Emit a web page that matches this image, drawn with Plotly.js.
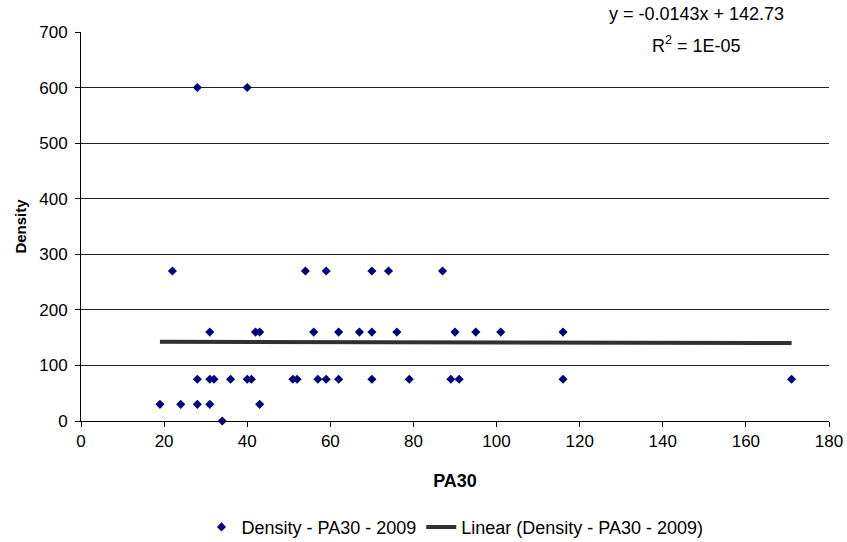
<!DOCTYPE html>
<html>
<head>
<meta charset="utf-8">
<script src="https://cdn.plot.ly/plotly-3.0.1.min.js"></script>
<style>
html, body { margin: 0; padding: 0; background: #fff; }
#chart { width: 847px; height: 542px; }
</style>
</head>
<body>
<div id="chart"></div>
<script>
// PA30 values (x) and Density values (y)
const pa30 = [
  28, 40,
  22, 54, 59, 70, 74, 87,
  31, 42, 43, 56, 62, 67, 70, 76, 90, 95, 101, 116,
  28, 31, 32, 36, 40, 41, 51, 52, 57, 59, 62, 70, 79, 89, 91, 116, 171,
  19, 24, 28, 31, 43,
  34
];
const density = [
  600, 600,
  270, 270, 270, 270, 270, 270,
  160, 160, 160, 160, 160, 160, 160, 160, 160, 160, 160, 160,
  75, 75, 75, 75, 75, 75, 75, 75, 75, 75, 75, 75, 75, 75, 75, 75, 75,
  30, 30, 30, 30, 30,
  0
];
// Trendline as displayed on the chart
const trendSlope = -0.0143;
const trendIntercept = 142.73;
const equationText = 'y = -0.0143x + 142.73';
const r2Text = 'R<sup>2</sup> = 1E-05';
const seriesName = 'Density - PA30 - 2009';
const trendName = 'Linear (Density - PA30 - 2009)';
const xTicks = [0, 20, 40, 60, 80, 100, 120, 140, 160, 180];
const yTicks = [0, 100, 200, 300, 400, 500, 600, 700];

const xMin = Math.min(...pa30);
const xMax = Math.max(...pa30);
const trendX = [xMin, xMax];
const trendY = trendX.map(v => trendSlope * v + trendIntercept);

const FONT = 'Liberation Sans, Arial, sans-serif';

const traces = [
  {
    type: 'scatter', mode: 'markers', name: seriesName,
    x: pa30, y: density,
    marker: { symbol: 'diamond', size: 7, color: '#000080' },
    cliponaxis: false
  },
  {
    type: 'scatter', mode: 'lines', name: trendName,
    x: trendX, y: trendY,
    line: { color: '#303030', width: 4 }
  }
];

const layout = {
  width: 847, height: 542,
  margin: { l: 81, r: 18, t: 32, b: 121, autoexpand: false },
  paper_bgcolor: '#ffffff', plot_bgcolor: '#ffffff',
  font: { family: FONT, size: 17, color: '#000000' },
  showlegend: true,
  legend: {
    orientation: 'h', x: 0.5, xanchor: 'center', y: -0.273, yanchor: 'middle',
    font: { family: FONT, size: 18, color: '#000000' },
    itemwidth: 30, traceorder: 'normal'
  },
  xaxis: {
    automargin: false,
    range: [0, 180], tickvals: xTicks, ticktext: xTicks.map(String),
    showgrid: false, zeroline: false,
    showline: true, linecolor: '#000000', linewidth: 1,
    ticks: 'outside', ticklen: 5, tickcolor: '#000000',
    tickfont: { family: FONT, size: 17, color: '#000000' },
    title: { text: '<b>PA30</b>', font: { family: FONT, size: 18, color: '#000000' }, standoff: 23 }
  },
  yaxis: {
    automargin: false,
    range: [0, 700], tickvals: yTicks, ticktext: yTicks.map(String),
    showgrid: true, gridcolor: '#222222', gridwidth: 1,
    zeroline: false,
    showline: true, linecolor: '#000000', linewidth: 1,
    ticks: 'outside', ticklen: 5, tickcolor: '#000000',
    ticklabelstandoff: 4,
    tickfont: { family: FONT, size: 17, color: '#000000' },
    title: { text: '<b>Density</b>', font: { family: FONT, size: 15, color: '#000000' }, standoff: 8 }
  },
  annotations: [
    { xref: 'paper', yref: 'paper', x: 0.823, y: 1.046, xanchor: 'center', yanchor: 'middle',
      text: equationText, showarrow: false, font: { family: FONT, size: 18, color: '#000000' } },
    { xref: 'paper', yref: 'paper', x: 0.823, y: 0.969, xanchor: 'center', yanchor: 'middle',
      text: r2Text, showarrow: false, font: { family: FONT, size: 18, color: '#000000' } }
  ]
};

Plotly.newPlot('chart', traces, layout, { staticPlot: true, displayModeBar: false });
</script>
</body>
</html>
